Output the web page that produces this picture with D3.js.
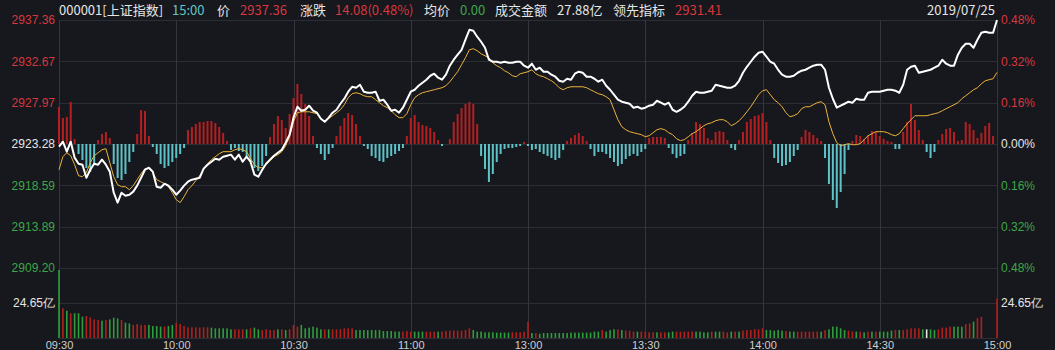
<!DOCTYPE html>
<html>
<head>
<meta charset="utf-8">
<script src="https://cdn.jsdelivr.net/npm/d3@7"></script>
<style>
html, body { margin: 0; padding: 0; background: #16181d; }
svg { display: block; font-family: "Noto Sans CJK SC", "Noto Sans", sans-serif; }
</style>
</head>
<body>
<div id="chart"></div>
<script>
// tick labels
const priceTicks = [2937.36, 2932.67, 2927.97, 2923.28, 2918.59, 2913.89, 2909.20]
const pctLabels = ['0.48%', '0.32%', '0.16%', '0.00%', '0.16%', '0.32%', '0.48%']
const timeTicks = [0, 30, 60, 90, 120, 150, 180, 210, 240]
const timeLabels = ['09:30', '10:00', '10:30', '11:00', '13:00', '13:30', '14:00', '14:30', '15:00']
const volTick = 24.65
const basePrice = 2923.28

// minute price (white line), one value per minute 09:30 .. 15:00
const price = [
    2922.97, 2923.54, 2922.41, 2923.54, 2921.73, 2921.04, 2920.93, 2919.45, 2920.36, 2921.04,
    2920.93, 2921.50, 2920.93, 2920.14, 2917.75, 2916.62, 2917.75, 2917.41, 2917.52, 2917.87,
    2918.55, 2919.45, 2920.36, 2920.59, 2920.14, 2918.43, 2918.32, 2918.77, 2918.55, 2918.09,
    2917.52, 2917.98, 2918.55, 2919.00, 2919.23, 2919.34, 2919.45, 2920.48, 2920.93, 2921.27,
    2921.61, 2921.50, 2921.84, 2921.95, 2922.07, 2921.50, 2922.07, 2921.27, 2921.84, 2921.27,
    2919.80, 2919.57, 2920.36, 2921.04, 2921.50, 2921.95, 2922.29, 2922.63, 2923.43, 2924.34,
    2926.27, 2927.51, 2927.06, 2927.17, 2927.63, 2927.06, 2926.83, 2926.15, 2925.81, 2926.27,
    2926.83, 2927.17, 2927.85, 2928.42, 2929.22, 2929.78, 2929.67, 2930.01, 2929.22, 2929.10,
    2929.10, 2929.22, 2928.19, 2928.31, 2927.74, 2927.06, 2927.17, 2926.83, 2927.40, 2928.31,
    2929.22, 2929.44, 2929.90, 2930.24, 2930.58, 2931.03, 2931.26, 2930.81, 2930.58, 2931.15,
    2932.17, 2932.85, 2933.42, 2933.98, 2935.12, 2936.25, 2936.14, 2935.46, 2934.89, 2934.21,
    2932.85, 2932.62, 2932.62, 2932.51, 2932.62, 2932.51, 2932.51, 2932.62, 2932.62, 2932.17,
    2931.94, 2932.40, 2931.71, 2931.94, 2931.49, 2931.49, 2931.15, 2930.92, 2930.46, 2930.35,
    2930.69, 2930.58, 2931.26, 2931.49, 2931.37, 2930.92, 2930.92, 2930.69, 2930.35, 2930.58,
    2929.90, 2929.44, 2928.88, 2928.31, 2928.08, 2927.97, 2927.85, 2927.40, 2927.51, 2927.29,
    2927.40, 2927.63, 2927.74, 2928.19, 2927.97, 2927.74, 2927.97, 2927.17, 2926.94, 2927.17,
    2927.51, 2928.08, 2928.76, 2929.22, 2929.10, 2929.10, 2929.22, 2929.33, 2930.01, 2929.90,
    2929.78, 2929.67, 2929.67, 2929.90, 2930.46, 2931.37, 2932.05, 2932.62, 2933.19, 2933.64,
    2933.76, 2933.19, 2932.62, 2932.40, 2931.71, 2931.15, 2930.92, 2930.92, 2931.03, 2931.37,
    2931.60, 2931.71, 2931.94, 2932.17, 2932.28, 2932.28, 2931.71, 2929.67, 2928.42, 2927.40,
    2927.63, 2927.85, 2928.08, 2927.97, 2928.42, 2928.31, 2928.31, 2929.10, 2929.22, 2929.22,
    2929.22, 2929.33, 2929.44, 2929.44, 2929.33, 2929.10, 2930.01, 2931.71, 2932.05, 2932.17,
    2931.37, 2931.49, 2931.60, 2931.71, 2931.94, 2932.17, 2932.85, 2932.40, 2932.17, 2932.17,
    2933.42, 2934.21, 2934.66, 2934.66, 2934.21, 2935.12, 2935.91, 2936.03, 2935.91, 2935.91,
    2937.36
]

// leading indicator (yellow line)
const leading = [
    2920.36, 2921.84, 2922.29, 2921.95, 2920.93, 2919.68, 2919.57, 2920.02, 2921.16, 2921.95,
    2922.29, 2922.63, 2922.75, 2921.16, 2919.57, 2918.66, 2918.43, 2918.43, 2918.09, 2918.55,
    2919.23, 2919.91, 2920.48, 2920.48, 2920.02, 2919.23, 2919.00, 2918.77, 2918.43, 2917.75,
    2916.96, 2916.62, 2917.30, 2918.09, 2918.55, 2919.11, 2919.68, 2920.36, 2921.04, 2921.50,
    2921.84, 2922.18, 2922.41, 2922.41, 2922.41, 2922.63, 2922.75, 2922.63, 2922.41, 2921.61,
    2920.93, 2920.59, 2920.59, 2920.93, 2921.38, 2921.84, 2922.07, 2922.41, 2923.09, 2924.11,
    2925.81, 2926.83, 2926.94, 2926.94, 2926.94, 2926.83, 2926.72, 2926.15, 2925.81, 2926.15,
    2926.49, 2926.83, 2927.17, 2927.74, 2928.54, 2928.99, 2929.10, 2928.99, 2928.76, 2928.65,
    2928.65, 2928.31, 2927.97, 2927.63, 2927.40, 2927.06, 2926.61, 2926.27, 2926.27, 2926.72,
    2927.74, 2928.54, 2928.88, 2929.10, 2929.22, 2929.33, 2929.44, 2929.56, 2929.67, 2929.90,
    2930.35, 2930.92, 2931.49, 2932.28, 2933.08, 2933.98, 2934.10, 2933.87, 2933.53, 2933.30,
    2933.08, 2932.51, 2932.17, 2931.94, 2931.60, 2931.37, 2931.03, 2930.92, 2931.26, 2931.37,
    2931.49, 2931.71, 2931.26, 2931.03, 2930.92, 2930.69, 2930.46, 2930.12, 2929.67, 2929.44,
    2929.67, 2929.78, 2929.78, 2929.78, 2929.78, 2929.67, 2929.44, 2929.22, 2928.99, 2928.88,
    2928.65, 2928.31, 2927.17, 2926.04, 2925.24, 2924.90, 2924.68, 2924.56, 2924.45, 2924.34,
    2924.11, 2924.22, 2924.56, 2924.90, 2925.02, 2924.90, 2924.56, 2924.34, 2923.88, 2923.66,
    2923.77, 2924.11, 2924.45, 2924.68, 2925.02, 2925.36, 2925.58, 2925.70, 2925.92, 2926.04,
    2926.04, 2925.81, 2925.36, 2925.58, 2925.92, 2926.38, 2926.94, 2927.51, 2928.19, 2928.88,
    2929.33, 2929.44, 2928.88, 2928.31, 2927.97, 2927.51, 2926.83, 2926.38, 2926.49, 2926.72,
    2927.29, 2927.51, 2927.51, 2927.74, 2927.97, 2928.08, 2927.74, 2925.81, 2924.45, 2923.43,
    2923.09, 2923.20, 2923.32, 2923.20, 2923.20, 2923.32, 2923.77, 2924.22, 2924.45, 2924.68,
    2924.68, 2924.68, 2924.56, 2924.34, 2924.22, 2924.45, 2925.02, 2925.58, 2926.04, 2926.49,
    2926.49, 2926.49, 2926.49, 2926.61, 2926.72, 2926.83, 2927.06, 2927.29, 2927.51, 2927.74,
    2927.97, 2928.42, 2928.76, 2929.10, 2929.44, 2929.67, 2930.12, 2930.46, 2930.58, 2930.69,
    2931.41
]

// red / cyan strength bars
const strength = [
    37, 26, 27, 42, 5, -10, -16, -24, -28, -20,
    4, 10, 12, 6, -20, -34, -36, -30, -18, -8,
    10, 34, 33, 8, -3, -10, -20, -24, -22, -18,
    -14, -10, -4, 14, 17, 20, 22, 22, 23, 23,
    21, 17, 11, 3, -6, -4, -7, -8, -12, -18,
    -24, -27, -22, -12, 7, 20, 28, 24, 16, 30,
    46, 60, 50, 40, 28, 8, -4, -10, -16, -10,
    -4, 8, 18, 26, 31, 29, 20, 8, -2, -5,
    -12, -14, -17, -18, -14, -12, -10, -7, -4, 8,
    26, 29, 22, 19, 18, 16, 12, 4, -2, 0,
    5, 22, 30, 36, 40, 42, 40, 20, -12, -25,
    -38, -30, -18, -10, -5, -4, -4, -3, -2, 2,
    -2, -6, -5, -8, -10, -12, -14, -16, -14, -6,
    3, 6, 9, 11, 8, 3, -5, -12, -8, -8,
    -10, -14, -18, -22, -20, -15, -12, -10, -12, -8,
    -5, 6, 7, 7, 7, 6, -4, -10, -14, -12,
    -10, 4, 11, 22, 20, 16, 6, 4, 12, 13,
    12, 4, -4, -6, 4, 12, 22, 25, 28, 29,
    31, 22, 4, -14, -19, -22, -21, -18, -12, -6,
    7, 14, 12, 9, 6, 3, -14, -40, -56, -64,
    -48, -30, -6, 3, 9, 8, 5, 9, 13, 12,
    8, 5, 3, 2, -5, -5, 12, 22, 40, 24,
    14, 4, -8, -14, -8, 4, 10, 15, 16, 12,
    3, 4, 22, 20, 14, 6, 11, 18, 21, 8,
    0
]

// traded amount per minute, 亿
const amount = [
    47.9, 20.9, 19.2, 17.4, 17.4, 17.4, 15.0, 15.5, 14.5, 13.1,
    12.7, 12.2, 12.7, 13.1, 14.3, 13.8, 12.7, 10.8, 10.3, 9.2,
    9.8, 9.2, 9.2, 9.2, 8.4, 8.4, 8.0, 8.0, 8.4, 9.2,
    10.8, 9.8, 8.4, 7.5, 7.5, 7.5, 7.5, 7.5, 7.5, 7.3,
    6.8, 6.8, 6.8, 6.8, 6.1, 6.1, 6.1, 6.1, 6.1, 6.8,
    7.3, 6.1, 5.6, 6.1, 5.6, 5.6, 6.1, 6.1, 5.6, 6.1,
    9.2, 8.0, 9.2, 6.8, 7.3, 8.0, 7.3, 6.1, 6.1, 6.1,
    6.1, 6.1, 6.1, 6.8, 6.8, 6.8, 5.6, 5.6, 5.6, 5.6,
    5.6, 5.6, 5.6, 4.9, 4.9, 4.9, 4.5, 4.5, 4.5, 4.9,
    4.5, 4.5, 4.5, 4.5, 4.5, 4.5, 4.5, 4.5, 4.5, 4.9,
    5.2, 5.2, 5.2, 5.2, 5.6, 6.8, 5.6, 4.5, 4.5, 4.0,
    4.0, 4.0, 3.8, 3.8, 3.8, 3.8, 4.0, 4.0, 4.0, 4.5,
    11.5, 3.5, 3.5, 3.0, 3.5, 3.5, 3.5, 3.5, 3.5, 3.5,
    3.5, 3.8, 3.8, 3.8, 3.8, 3.8, 3.8, 4.5, 4.5, 5.6,
    4.5, 5.6, 6.1, 6.1, 5.6, 5.2, 5.2, 4.5, 4.5, 4.5,
    4.5, 4.0, 4.0, 4.0, 4.0, 4.0, 4.0, 4.5, 4.5, 4.5,
    4.5, 4.5, 4.5, 4.5, 4.5, 4.0, 4.0, 4.5, 4.5, 4.5,
    4.5, 4.0, 4.5, 4.5, 4.5, 5.2, 5.6, 5.6, 6.1, 6.1,
    6.8, 5.6, 5.6, 5.2, 5.6, 5.2, 4.9, 4.5, 4.5, 4.5,
    4.5, 4.5, 4.5, 4.5, 4.5, 4.5, 5.6, 6.1, 8.0, 8.0,
    6.8, 5.6, 5.2, 4.5, 4.5, 4.5, 4.0, 4.5, 4.5, 4.5,
    4.5, 4.5, 4.5, 5.2, 5.6, 5.6, 5.6, 6.1, 6.8, 6.8,
    6.8, 6.1, 6.1, 6.1, 5.6, 6.1, 7.3, 7.3, 8.0, 8.0,
    8.0, 8.0, 9.8, 10.3, 11.5, 14.0, 15.0, 0, 0, 0,
    27.88
]

// r = up minute, g = down minute, w = unchanged
const amountDir = (
    "grgrgggrrr" + "rgrgggrggr" + "rrrggggrgg" + "rrrrrrrrrg" + "gggggrrrgr" +
    "ggrrrrgrgr" + "rrggggggrg" + "rrrrrrgggg" + "ggggggggrr" + "rgggrrrgrr" +
    "rrrrrrgggg" + "ggggggrrrr" + "rgrggggggg" + "gggggggggr" + "gggrgrrrgr" +
    "rrrgrrggrr" + "rrrggggrgg" + "rrgrgrrrrr" + "rgggggrggr" + "rrrrrgrggg" +
    "ggrrgrgrgr" + "ggggrgrrrr" + "rgwggrrrrg" + "ggrrgrrrrr" + "r"
).split('')

// header line
const headerText = ['000001[上证指数]', '15:00', '价', '2937.36', '涨跌', '14.08(0.48%)', '均价', '0.00', '成交金额', '27.88亿', '领先指标', '2931.41']
const headerKind = ['w', 'c', 'w', 'r', 'w', 'r', 'w', 'g', 'w', 'w', 'w', 'r']
const dateText = '2019/07/25'


const W = 1055, H = 350
const plotL = 59, plotR = 997, plotT = 20, plotM = 268, plotB = 338

const RED = '#d8373e', GREEN = '#3ea64a', WHITE = '#e6e6e6', CYAN = '#62c6c9'
const GRID = '#2b2e35'

const svg = d3.select('#chart').append('svg')
    .attr('width', W)
    .attr('height', H)

svg.append('rect').attr('width', W).attr('height', H).attr('fill', '#16181d')

const x = d3.scaleLinear().domain([0, 240]).range([plotL, plotR])
const y = d3.scaleLinear().domain([priceTicks[6], priceTicks[0]]).range([plotM, plotT])
const yBar = d3.scaleLinear().domain([-124, 124]).range([plotM, plotT])
const yVol = d3.scaleLinear().domain([0, volTick * 2]).range([plotB, plotM])

// grid
const grid = svg.append('g').attr('stroke', GRID).attr('stroke-width', 1)
grid.selectAll('.h').data(priceTicks).join('line')
    .attr('x1', plotL).attr('x2', plotR)
    .attr('y1', d => Math.round(y(d)) + 0.5).attr('y2', d => Math.round(y(d)) + 0.5)
grid.append('g').selectAll('line').data([volTick, 0]).join('line')
    .attr('x1', plotL).attr('x2', plotR)
    .attr('y1', d => Math.round(yVol(d)) + 0.5).attr('y2', d => Math.round(yVol(d)) + 0.5)
grid.append('g').selectAll('line').data(timeTicks).join('line')
    .attr('x1', d => Math.round(x(d)) + 0.5).attr('x2', d => Math.round(x(d)) + 0.5)
    .attr('y1', plotT).attr('y2', plotB)
    .attr('stroke', '#33363d')

// strength bars
svg.append('g').selectAll('rect').data(strength).join('rect')
    .attr('x', (d, i) => x(i) - 1)
    .attr('width', 2)
    .attr('y', d => d >= 0 ? yBar(d) : yBar(0))
    .attr('height', d => Math.abs(yBar(d) - yBar(0)))
    .attr('fill', d => d >= 0 ? '#b41f22' : '#5ec3c8')

// volume bars
const dirColor = { r: '#b0201f', g: '#2e9e3c', w: '#e8e8e8' }
svg.append('g').selectAll('rect').data(amount).join('rect')
    .attr('x', (d, i) => x(i) - 0.8)
    .attr('width', 1.6)
    .attr('y', d => yVol(d))
    .attr('height', d => yVol(0) - yVol(d))
    .attr('fill', (d, i) => dirColor[amountDir[i]])

// lines
const line = d3.line().x((d, i) => x(i)).y(d => y(d))
svg.append('path').datum(leading)
    .attr('fill', 'none').attr('stroke', '#eeb33c').attr('stroke-width', 1)
    .attr('d', line)
svg.append('path').datum(price)
    .attr('fill', 'none').attr('stroke', '#ffffff').attr('stroke-width', 2)
    .attr('stroke-linejoin', 'round')
    .attr('d', line)

// axes
const tickColor = d => d > basePrice ? RED : (d < basePrice ? GREEN : WHITE)

const axL = svg.append('g').attr('transform', `translate(${plotL},0)`)
    .call(d3.axisLeft(y).tickValues(priceTicks).tickSize(0).tickPadding(4).tickFormat(d3.format('.2f')))
axL.select('.domain').remove()
axL.selectAll('text').attr('fill', d => tickColor(d)).style('font-size', '12px')

const axR = svg.append('g').attr('transform', `translate(${plotR},0)`)
    .call(d3.axisRight(y).tickValues(priceTicks).tickSize(0).tickPadding(4).tickFormat((d, i) => pctLabels[i]))
axR.select('.domain').remove()
axR.selectAll('text').attr('fill', d => tickColor(d)).style('font-size', '12px')

const volL = svg.append('g').attr('transform', `translate(${plotL},0)`)
    .call(d3.axisLeft(yVol).tickValues([volTick]).tickSize(0).tickPadding(4).tickFormat(d => d + '亿'))
volL.select('.domain').remove()
volL.selectAll('text').attr('fill', WHITE).style('font-size', '12px')

const volR = svg.append('g').attr('transform', `translate(${plotR},0)`)
    .call(d3.axisRight(yVol).tickValues([volTick]).tickSize(0).tickPadding(4).tickFormat(d => d + '亿'))
volR.select('.domain').remove()
volR.selectAll('text').attr('fill', WHITE).style('font-size', '12px')

// time labels sit in the narrow strip under the volume panel
const axB = svg.append('g').attr('transform', `translate(0,${plotB})`)
    .call(d3.axisBottom(x).tickValues(timeTicks).tickSize(0).tickPadding(0).tickFormat((d, i) => timeLabels[i]))
axB.select('.domain').remove()
axB.selectAll('text')
    .attr('fill', '#cfcfcf')
    .attr('dy', null)
    .attr('y', 10.5)
    .style('font-size', '11px')

// header
const headerX = [59, 172, 217, 240, 300, 335, 424, 460, 495, 557, 613, 675]
const kindColor = { w: WHITE, c: CYAN, r: RED, g: GREEN }
svg.append('g').selectAll('text').data(headerText).join('text')
    .attr('x', (d, i) => headerX[i])
    .attr('y', 11)
    .attr('dominant-baseline', 'middle')
    .attr('fill', (d, i) => kindColor[headerKind[i]])
    .style('font-size', '13px')
    .text(d => d)

svg.append('text')
    .attr('x', 995).attr('y', 11)
    .attr('dominant-baseline', 'middle')
    .attr('text-anchor', 'end')
    .attr('fill', WHITE)
    .style('font-size', '13px')
    .text(dateText)
</script>
</body>
</html>
